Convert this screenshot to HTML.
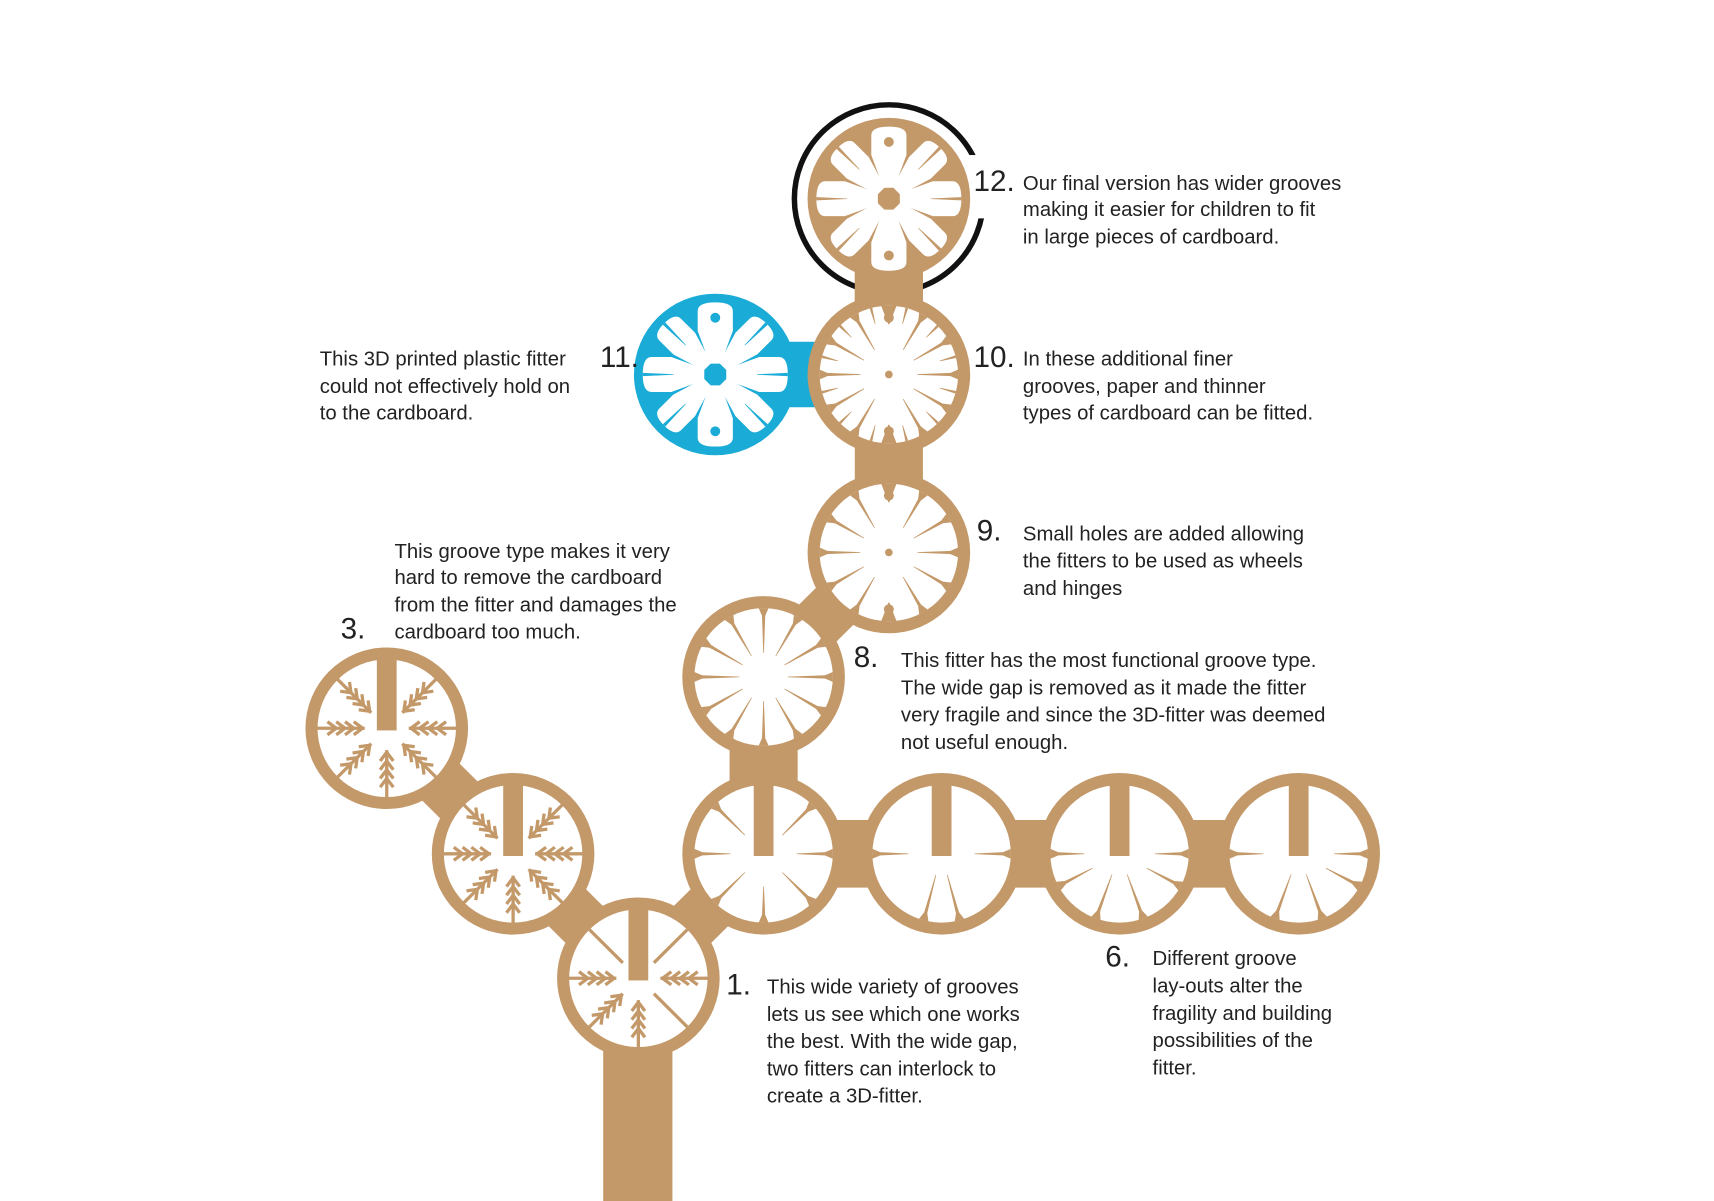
<!DOCTYPE html>
<html><head><meta charset="utf-8"><style>
html,body{margin:0;padding:0;background:#fff;width:1714px;height:1201px;overflow:hidden}
svg{display:block}
text{font-family:"Liberation Sans",sans-serif;fill:#222;font-size:18.5px}
.n{font-size:27px}
</style></head><body>
<svg id="s" width="1714" height="1201" viewBox="0 0 1560 1100" preserveAspectRatio="none" xmlns="http://www.w3.org/2000/svg">
<g id="g" transform="translate(-3,0)"></g>
<g>
<text class="n" x="886" y="175">12.</text>
<text x="931" y="174">Our final version has wider grooves</text>
<text x="931" y="198">making it easier for children to fit</text>
<text x="931" y="223">in large pieces of cardboard.</text>
<text class="n" x="886" y="336">10.</text>
<text x="931" y="335">In these additional finer</text>
<text x="931" y="360">grooves, paper and thinner</text>
<text x="931" y="384">types of cardboard can be fitted.</text>
<text class="n" x="546" y="336">11.</text>
<text x="291" y="335">This 3D printed plastic fitter</text>
<text x="291" y="360">could not effectively hold on</text>
<text x="291" y="384">to the cardboard.</text>
<text class="n" x="889" y="495">9.</text>
<text x="931" y="495">Small holes are added allowing</text>
<text x="931" y="520">the fitters to be used as wheels</text>
<text x="931" y="545">and hinges</text>
<text class="n" x="310" y="585">3.</text>
<text x="359" y="511">This groove type makes it very</text>
<text x="359" y="535">hard to remove the cardboard</text>
<text x="359" y="560">from the fitter and damages the</text>
<text x="359" y="585">cardboard too much.</text>
<text class="n" x="777" y="611">8.</text>
<text x="820" y="611">This fitter has the most functional groove type.</text>
<text x="820" y="636">The wide gap is removed as it made the fitter</text>
<text x="820" y="661">very fragile and since the 3D-fitter was deemed</text>
<text x="820" y="686">not useful enough.</text>
<text class="n" x="661" y="911">1.</text>
<text x="698" y="910">This wide variety of grooves</text>
<text x="698" y="935">lets us see which one works</text>
<text x="698" y="960">the best. With the wide gap,</text>
<text x="698" y="985">two fitters can interlock to</text>
<text x="698" y="1010">create a 3D-fitter.</text>
<text class="n" x="1006" y="885">6.</text>
<text x="1049" y="884">Different groove</text>
<text x="1049" y="909">lay-outs alter the</text>
<text x="1049" y="934">fragility and building</text>
<text x="1049" y="959">possibilities of the</text>
<text x="1049" y="984">fitter.</text>
</g>
</svg>
<script>
var T="#C4996A",B="#1AABD6",W="#fff",g=document.getElementById("g"),h="";
function P(cx,cy,a,r){var t=a*Math.PI/180;return[cx+r*Math.sin(t),cy-r*Math.cos(t)];}
function spoke(cx,cy,a,r1,r2,w1,w2,c){var t=a*Math.PI/180,px=Math.cos(t),py=Math.sin(t);var p1=P(cx,cy,a,r1),p2=P(cx,cy,a,r2);
h+='<polygon fill="'+(c||T)+'" points="'+(p1[0]+px*w1/2)+','+(p1[1]+py*w1/2)+' '+(p1[0]-px*w1/2)+','+(p1[1]-py*w1/2)+' '+(p2[0]-px*w2/2)+','+(p2[1]-py*w2/2)+' '+(p2[0]+px*w2/2)+','+(p2[1]+py*w2/2)+'"/>';}
function fspoke(cx,cy,a,rin,c){spoke(cx,cy,a,63,56,9,3,c);spoke(cx,cy,a,57,rin,3,0.6,c);}
function line(a,b,c,w){h+='<line x1="'+a[0]+'" y1="'+a[1]+'" x2="'+b[0]+'" y2="'+b[1]+'" stroke="'+c+'" stroke-width="'+w+'"/>';}
function circ(x,y,r,c){h+='<circle cx="'+x+'" cy="'+y+'" r="'+r+'" fill="'+c+'"/>';}
function disk(x,y,c){circ(x,y,74,c);circ(x,y,63,W);}
function bar(x,y){h+='<rect x="'+(x-9)+'" y="'+(y-66)+'" width="18" height="'+(66+2)+'" fill="'+T+'"/>';}
function tree(cx,cy,a){var t=a*Math.PI/180,px=Math.cos(t),py=Math.sin(t);line(P(cx,cy,a,64),P(cx,cy,a,20),T,3);
 for(var r=22;r<=52;r+=8){var p=P(cx,cy,a,r),q=P(cx,cy,a,r+8);line(p,[q[0]+px*6,q[1]+py*6],T,3);line(p,[q[0]-px*6,q[1]-py*6],T,3);}}
function flower(cx,cy,c){circ(cx,cy,74,c);
 for(var i=0;i<8;i++){var a=i*45,w=(i%2?28:32);var t=a*Math.PI/180,px=Math.cos(t),py=Math.sin(t);
  var a1=P(cx,cy,a,10),a2=P(cx,cy,a,40),a3=P(cx,cy,a,58),tip=P(cx,cy,a,66);
  h+='<path fill="'+W+'" d="M'+(a1[0]+px*5)+','+(a1[1]+py*5)+' L'+(a2[0]+px*w/2)+','+(a2[1]+py*w/2)+' L'+(a3[0]+px*w/2)+','+(a3[1]+py*w/2)+' Q'+(tip[0]+px*w/2)+','+(tip[1]+py*w/2)+' '+tip[0]+','+tip[1]+' Q'+(tip[0]-px*w/2)+','+(tip[1]-py*w/2)+' '+(a3[0]-px*w/2)+','+(a3[1]-py*w/2)+' L'+(a2[0]-px*w/2)+','+(a2[1]-py*w/2)+' L'+(a1[0]-px*5)+','+(a1[1]-py*5)+'Z"/>';
  if(i%4==0){var d=P(cx,cy,a,52);circ(d[0],d[1],4.5,c);} else spoke(cx,cy,a,66,38,3,0.5,c);}
 circ(cx,cy,3.5,c);}
function radial(cx,cy,n,rin,holes){for(var i=0;i<n;i++){var a=i*360/n;if(holes&&(a==0||a==180)){spoke(cx,cy,a,63,46,14,1);continue;}fspoke(cx,cy,a,rin);}
 if(holes){circ(cx,cy,3.5,T);var d=P(cx,cy,0,52);circ(d[0],d[1],4.5,T);d=P(cx,cy,180,52);circ(d[0],d[1],4.5,T);}}
// connectors
h+='<rect x="552" y="900" width="63" height="200" fill="'+T+'"/>';
line([584,896],[355,667],T,48);line([584,896],[698,782],T,48);line([698,782],[1185,782],T,62);
line([698,782],[698,620],T,62);line([698,620],[812,506],T,48);line([812,506],[812,182],T,62);line([654,343],[812,343],B,60);
h+='<circle cx="812" cy="182" r="86" fill="none" stroke="#111" stroke-width="5"/>';
h+='<rect x="880" y="142" width="30" height="58" fill="#fff"/>';
h+='<rect x="781" y="240" width="62" height="40" fill="'+T+'"/>';
flower(812,182,T);
flower(654,343,B);
disk(812,343,T);radial(812,343,12,26,true);for(var i=0;i<12;i++)spoke(812,343,i*30+15,63,48,2.5,0.5);
disk(812,506,T);radial(812,506,12,26,true);
disk(698,620,T);radial(698,620,12,22,false);
disk(698,782,T);bar(698,782);[45,90,135,180,225,270,315].forEach(function(a){fspoke(698,782,a,a%90?24:30);});
disk(860,782,T);bar(860,782);[90,270,165,195].forEach(function(a){fspoke(860,782,a,a%180==90?30:20);});
disk(1022,782,T);bar(1022,782);[90,270,160,200,118,242].forEach(function(a){fspoke(1022,782,a,(a==90||a==270)?32:(a%40==0?20:28));});
disk(1185,782,T);bar(1185,782);[90,270,160,200,118].forEach(function(a){fspoke(1185,782,a,(a==90||a==270)?32:(a%40==0?20:28));});
disk(355,667,T);bar(355,667);[45,90,135,180,225,270,315].forEach(function(a){tree(355,667,a);});
disk(470,782,T);bar(470,782);[45,90,135,180,225,270,315].forEach(function(a){tree(470,782,a);});
disk(584,896,T);bar(584,896);[90,180,225,270].forEach(function(a){tree(584,896,a);});[45,135,315].forEach(function(a){line(P(584,896,a,63),P(584,896,a,20),T,3);});
g.innerHTML=h;
</script>
</body></html>
